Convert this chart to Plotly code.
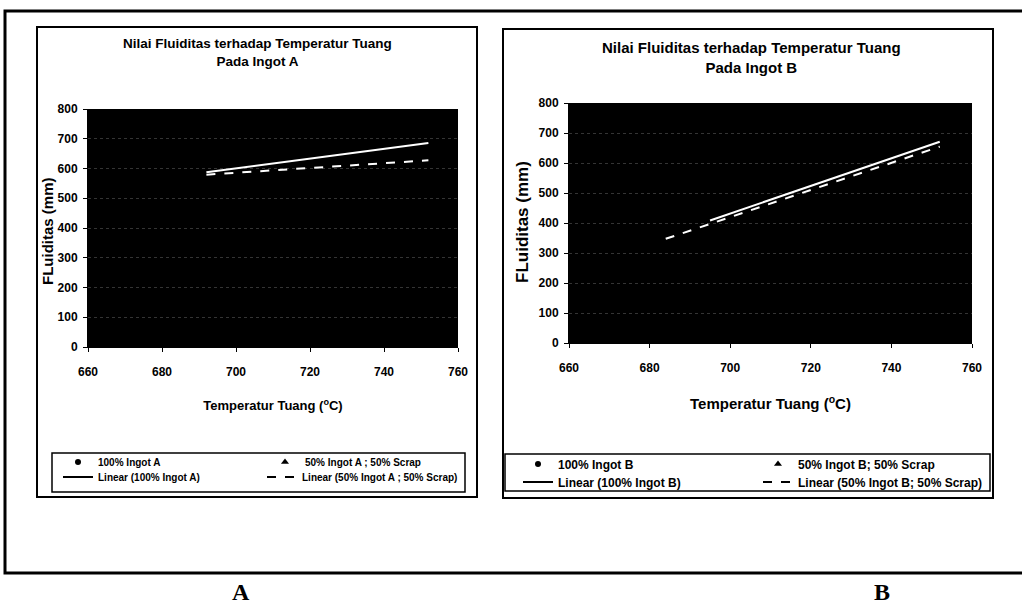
import numpy as np
import plotly.graph_objects as go

# ---------------- data ----------------
temp_a100 = [692, 720, 752]
flu_a100 = [588, 632, 686]
temp_a50 = [692, 722, 752]
flu_a50 = [578, 606, 626]

temp_b100 = [695, 722, 752]
flu_b100 = [410, 530, 672]
temp_b50 = [684, 720, 752]
flu_b50 = [352, 500, 660]

x_ticks = [660, 680, 700, 720, 740, 760]
y_ticks = [0, 100, 200, 300, 400, 500, 600, 700, 800]

names_a = ["100% Ingot A", "50% Ingot A ; 50% Scrap",
           "Linear (100% Ingot A)", "Linear (50% Ingot A ; 50% Scrap)"]
names_b = ["100% Ingot B", "50% Ingot B; 50% Scrap",
           "Linear (100% Ingot B)", "Linear (50% Ingot B; 50% Scrap)"]

title_a = "Nilai Fluiditas terhadap Temperatur Tuang<br>Pada Ingot A"
title_b = "Nilai Fluiditas terhadap Temperatur Tuang<br>Pada Ingot B"
xtitle = "Temperatur Tuang (<sup>o</sup>C)"
ytitle = "FLuiditas (mm)"

W, H = 1022, 614
FONT = "Liberation Sans, Arial, sans-serif"


def px(x):
    return x / W


def py(y):
    return 1 - y / H


def fit(xs, ys):
    k, b = np.polyfit(xs, ys, 1)
    xx = np.array([min(xs), max(xs)])
    return xx, k * xx + b


fig = go.Figure()


def add_chart(xa, ya, legs, t100, f100, t50, f50, names):
    fig.add_trace(go.Scatter(x=t100, y=f100, mode="markers", name=names[0],
                             marker=dict(symbol="circle", size=6, color="black"),
                             xaxis=xa, yaxis=ya, legend=legs[0]))
    fig.add_trace(go.Scatter(x=t50, y=f50, mode="markers", name=names[1],
                             marker=dict(symbol="triangle-up", size=7, color="black"),
                             xaxis=xa, yaxis=ya, legend=legs[1]))
    # legend entries for trend lines (black in the legend)
    fig.add_trace(go.Scatter(x=[None], y=[None], mode="lines", name=names[2],
                             line=dict(color="black", width=2),
                             xaxis=xa, yaxis=ya, legend=legs[2]))
    fig.add_trace(go.Scatter(x=[None], y=[None], mode="lines", name=names[3],
                             line=dict(color="black", width=2, dash="dash"),
                             xaxis=xa, yaxis=ya, legend=legs[3]))
    # visible trend lines (white on the black plot area)
    xx, yy = fit(t100, f100)
    fig.add_trace(go.Scatter(x=xx, y=yy, mode="lines", showlegend=False,
                             line=dict(color="white", width=2),
                             xaxis=xa, yaxis=ya))
    xx, yy = fit(t50, f50)
    fig.add_trace(go.Scatter(x=xx, y=yy, mode="lines", showlegend=False,
                             line=dict(color="white", width=2, dash="dash"),
                             xaxis=xa, yaxis=ya))


add_chart("x", "y", ["legend", "legend2", "legend3", "legend4"],
          temp_a100, flu_a100, temp_a50, flu_a50, names_a)
add_chart("x2", "y2", ["legend5", "legend6", "legend7", "legend8"],
          temp_b100, flu_b100, temp_b50, flu_b50, names_b)


def xax(domain, anchor, size, standoff):
    return dict(domain=domain, anchor=anchor, range=[660, 760], tickvals=x_ticks,
                showgrid=False, zeroline=False, showline=True, linecolor="black",
                ticks="outside", ticklen=4, tickcolor="black", ticklabelstandoff=10,
                tickfont=dict(family=FONT, size=12, color="black", weight="bold"),
                title=dict(text=xtitle, standoff=standoff,
                           font=dict(family=FONT, size=size, color="black", weight="bold")))


def yax(domain, anchor):
    return dict(domain=domain, anchor=anchor, range=[0, 800], tickvals=y_ticks,
                showgrid=True, gridcolor="#343434", griddash="dot", gridwidth=1,
                zeroline=False, showline=True, linecolor="black",
                ticks="outside", ticklen=4, tickcolor="black", ticklabelstandoff=3,
                tickfont=dict(family=FONT, size=12, color="black", weight="bold"))


def leg(x, y, size):
    return dict(x=px(x), y=py(y), xanchor="left", yanchor="middle",
                bgcolor="rgba(0,0,0,0)", itemwidth=30, borderwidth=0,
                font=dict(family=FONT, size=size, color="black", weight="bold"))


fig.update_layout(
    width=W, height=H,
    margin=dict(l=0, r=0, t=0, b=0, autoexpand=False),
    paper_bgcolor="white",
    plot_bgcolor="black",
    font=dict(family=FONT, color="black"),
    xaxis=xax([px(88), px(458)], "y", 13, 22),
    yaxis=yax([py(347), py(109)], "x"),
    xaxis2=xax([px(569), px(972)], "y2", 15, 24),
    yaxis2=yax([py(343), py(103)], "x2"),
    legend=leg(58, 462, 10),
    legend2=leg(265, 462, 10),
    legend3=leg(58, 477, 10),
    legend4=leg(262, 477, 10),
    legend5=leg(518, 464, 12),
    legend6=leg(758, 464, 12),
    legend7=leg(518, 482, 12),
    legend8=leg(758, 482, 12),
)

# y-axis titles
fig.add_annotation(x=px(48), y=py(231), xref="paper", yref="paper", text=ytitle,
                   textangle=-90, showarrow=False, xanchor="center", yanchor="middle",
                   font=dict(family=FONT, size=15, color="black", weight="bold"))
fig.add_annotation(x=px(523), y=py(222), xref="paper", yref="paper", text=ytitle,
                   textangle=-90, showarrow=False, xanchor="center", yanchor="middle",
                   font=dict(family=FONT, size=17, color="black", weight="bold"))

# chart titles
fig.add_annotation(x=px(257), y=py(52), xref="paper", yref="paper", text=title_a,
                   showarrow=False, xanchor="center", yanchor="middle",
                   font=dict(family=FONT, size=13.5, color="black", weight="bold"))
fig.add_annotation(x=px(751), y=py(57), xref="paper", yref="paper", text=title_b,
                   showarrow=False, xanchor="center", yanchor="middle",
                   font=dict(family=FONT, size=15, color="black", weight="bold"))

# bottom labels
for lab, x in (("A", 241), ("B", 882)):
    fig.add_annotation(x=px(x), y=py(592), xref="paper", yref="paper", text=lab,
                       showarrow=False, xanchor="center", yanchor="middle",
                       font=dict(family="Liberation Serif, DejaVu Serif", size=24,
                                 color="black", weight="bold"))

# frames
frames = [
    (5, 11, 1030, 573, 3),     # outer
    (37, 27, 477, 497, 2),     # chart A box
    (503, 29, 993, 498, 2),    # chart B box
    (52, 453, 465, 492, 1.5),  # legend A box
    (505, 454, 990, 491, 1.5), # legend B box
]
for x0, y0, x1, y1, w in frames:
    fig.add_shape(type="rect", xref="paper", yref="paper",
                  x0=px(x0), x1=px(x1), y0=py(y1), y1=py(y0),
                  line=dict(color="black", width=w), fillcolor="rgba(0,0,0,0)")

fig.write_html("out.html")
